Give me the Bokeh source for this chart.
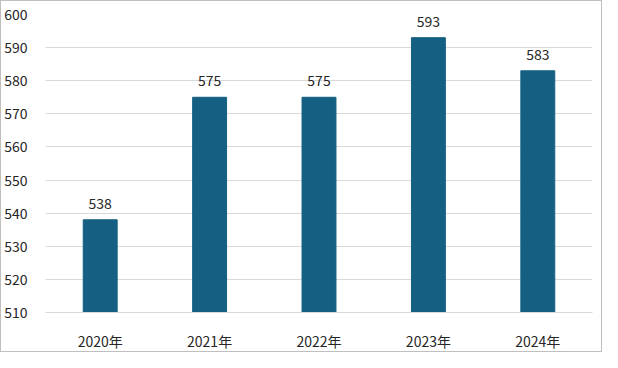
from bokeh.plotting import figure
from bokeh.models import ColumnDataSource, Range1d, FixedTicker, LabelSet
from bokeh.core.properties import value
from bokeh.embed import file_html
from bokeh.resources import INLINE

categories = ["2020年", "2021年", "2022年", "2023年", "2024年"]
values = [538, 575, 575, 593, 583]
y_ticks = [510, 520, 530, 540, 550, 560, 570, 580, 590, 600]

FONT = "Noto Sans CJK JP"

src = ColumnDataSource(data=dict(cat=categories, val=values, lab=[str(v) for v in values]))

p = figure(x_range=categories, y_range=Range1d(510, 600), width=602, height=352,
           output_backend="svg", toolbar_location=None,
           min_border_left=40, min_border_right=11, min_border_top=13, min_border_bottom=8)

p.vbar(x="cat", top="val", bottom=510, width=0.31, color="#156082", source=src)

labels = LabelSet(x="cat", y="val", text="lab", source=src, text_align="center",
                  text_baseline="bottom", y_offset=11, text_font=value(FONT),
                  text_font_size=value("14px"), text_color="#262626")
p.add_layout(labels)

p.yaxis.ticker = FixedTicker(ticks=y_ticks)
p.yaxis.axis_line_color = None
p.yaxis.major_tick_line_color = None
p.yaxis.minor_tick_line_color = None
p.yaxis.major_label_text_font = FONT
p.yaxis.major_label_text_font_size = "14px"
p.yaxis.major_label_text_color = "#262626"
p.yaxis.major_label_standoff = 12

p.xaxis.axis_line_color = "#d9d9d9"
p.xaxis.major_tick_line_color = None
p.xaxis.minor_tick_line_color = None
p.xaxis.major_label_text_font = FONT
p.xaxis.major_label_text_font_size = "14px"
p.xaxis.major_label_text_color = "#262626"
p.xaxis.major_label_standoff = 12

p.xgrid.grid_line_color = None
p.ygrid.grid_line_color = "#d9d9d9"
p.ygrid.ticker = FixedTicker(ticks=y_ticks)

p.outline_line_color = None
p.border_fill_color = "white"
p.background_fill_color = "white"
p.styles = {"border": "1px solid #bfbfbf", "box-sizing": "border-box"}

open("out.html", "w").write(file_html(p, INLINE))
